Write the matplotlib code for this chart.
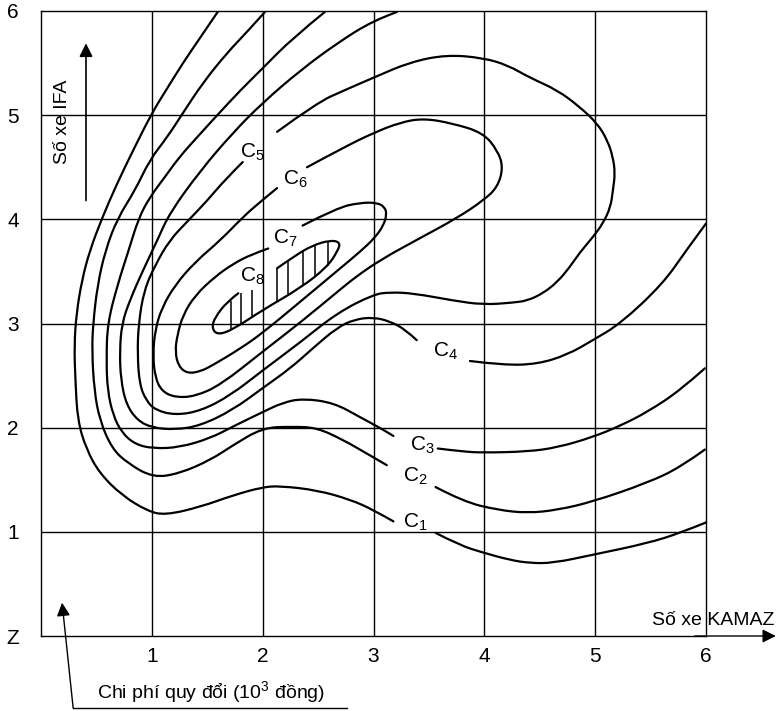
import numpy as np
import matplotlib.pyplot as plt
from matplotlib.path import Path
from matplotlib.patches import PathPatch

plt.rcParams['font.family'] = ['Liberation Sans', 'DejaVu Sans']
plt.rcParams['mathtext.fontset'] = 'custom'
plt.rcParams['mathtext.rm'] = 'Liberation Sans'
plt.rcParams['mathtext.it'] = 'Liberation Sans'

# Duong dong muc chi phi C1..C8 (toa do: so xe KAMAZ, so xe IFA)
c1a_x = [1.60, 1.44, 1.28, 1.14, 1.00, 0.83, 0.68, 0.55, 0.44, 0.37, 0.32, 0.30, 0.31, 0.33,
         0.41, 0.53, 0.73, 0.96, 1.12, 1.44, 1.73, 2.00, 2.16, 2.49, 2.79, 3.00, 3.18]
c1a_y = [6.00, 5.75, 5.50, 5.26, 5.02, 4.66, 4.33, 4.01, 3.70, 3.42, 3.10, 2.79, 2.46, 2.07,
         1.79, 1.56, 1.35, 1.20, 1.16, 1.24, 1.35, 1.43, 1.44, 1.40, 1.31, 1.21, 1.10]
c1b_x = [3.56, 3.78, 3.99, 4.23, 4.41, 4.62, 4.98, 5.47, 5.77, 6.00]
c1b_y = [0.99, 0.87, 0.80, 0.73, 0.70, 0.70, 0.78, 0.89, 0.99, 1.09]

c2a_x = [2.02, 1.86, 1.68, 1.46, 1.28, 1.14, 0.98, 0.85, 0.69, 0.58, 0.51, 0.47, 0.46, 0.48,
         0.53, 0.64, 0.78, 1.01, 1.25, 1.53, 1.73, 2.00, 2.27, 2.49, 2.73, 2.91, 3.12]
c2a_y = [5.99, 5.80, 5.60, 5.31, 5.02, 4.79, 4.57, 4.28, 4.01, 3.70, 3.37, 3.00, 2.74, 2.36,
         2.07, 1.80, 1.66, 1.52, 1.56, 1.69, 1.83, 2.00, 2.01, 2.00, 1.88, 1.77, 1.64]
c2b_x = [3.56, 3.81, 4.12, 4.39, 4.66, 4.98, 5.47, 5.77, 5.99]
c2b_y = [1.43, 1.29, 1.21, 1.18, 1.21, 1.29, 1.47, 1.62, 1.79]

c3a_x = [2.56, 2.27, 2.00, 1.80, 1.59, 1.41, 1.25, 1.12, 0.98, 0.88, 0.79, 0.69, 0.60, 0.59,
         0.60, 0.65, 0.73, 0.85, 1.01, 1.25, 1.53, 1.73, 2.00, 2.18, 2.36, 2.64, 2.88, 3.09, 3.18]
c3a_y = [5.99, 5.74, 5.45, 5.24, 5.00, 4.79, 4.60, 4.41, 4.21, 4.01, 3.70, 3.37, 3.00, 2.65,
         2.36, 2.12, 1.95, 1.84, 1.80, 1.81, 1.90, 2.01, 2.15, 2.24, 2.28, 2.24, 2.10, 1.98, 1.92]
c3b_x = [3.58, 3.81, 3.99, 4.39, 4.66, 4.98, 5.23, 5.47, 5.77, 5.99]
c3b_y = [1.80, 1.77, 1.76, 1.77, 1.81, 1.91, 2.02, 2.15, 2.36, 2.57]

c4a_x = [3.21, 3.00, 2.67, 2.34, 2.00, 1.73, 1.44, 1.16, 1.05, 0.92, 0.80, 0.73, 0.71, 0.72,
         0.77, 0.87, 1.00, 1.21, 1.44, 1.73, 2.00, 2.25, 2.45, 2.67, 2.83, 3.00, 3.15, 3.29, 3.39]
c4a_y = [5.99, 5.91, 5.69, 5.43, 5.12, 4.83, 4.47, 4.06, 3.80, 3.51, 3.22, 3.00, 2.74, 2.46,
         2.22, 2.07, 2.00, 1.98, 2.02, 2.17, 2.38, 2.57, 2.76, 2.96, 3.04, 3.06, 3.02, 2.94, 2.84]
c4b_x = [3.87, 4.17, 4.48, 4.75, 4.98, 5.23, 5.61, 5.82, 6.00]
c4b_y = [2.64, 2.60, 2.61, 2.70, 2.84, 3.00, 3.38, 3.70, 3.96]

c5_x = [2.13, 2.49, 2.74, 3.00, 3.33, 3.66, 3.99, 4.21, 4.41, 4.66, 4.86, 5.02, 5.11, 5.16,
        5.18, 5.16, 5.14, 5.07, 4.98, 4.86, 4.77, 4.66, 4.53, 4.39, 4.26, 3.99, 3.72, 3.36,
        3.15, 3.00, 2.67, 2.34, 2.00, 1.71, 1.44, 1.21, 1.03, 0.95, 0.89, 0.87, 0.88, 0.93,
        1.03, 1.16, 1.33, 1.50, 1.66, 1.82]
c5_y = [4.84, 5.12, 5.24, 5.36, 5.51, 5.58, 5.55, 5.48, 5.36, 5.24, 5.08, 4.92, 4.76, 4.60,
        4.44, 4.28, 4.12, 3.96, 3.83, 3.68, 3.54, 3.40, 3.29, 3.22, 3.20, 3.18, 3.22, 3.29,
        3.30, 3.28, 3.10, 2.82, 2.55, 2.31, 2.16, 2.12, 2.17, 2.26, 2.41, 2.70, 3.00, 3.32,
        3.56, 3.80, 3.99, 4.18, 4.38, 4.55]

c6_x = [2.40, 2.73, 3.00, 3.24, 3.45, 3.72, 3.99, 4.12, 4.17, 4.12, 3.99, 3.75, 3.42, 3.06,
        2.83, 2.67, 2.34, 2.00, 1.62, 1.39, 1.21, 1.09, 1.03, 1.01, 1.03, 1.09, 1.21, 1.39,
        1.62, 1.82, 1.98, 2.13]
c6_y = [4.50, 4.69, 4.83, 4.93, 4.97, 4.92, 4.83, 4.66, 4.50, 4.31, 4.18, 4.01, 3.82, 3.61,
        3.44, 3.30, 3.01, 2.73, 2.41, 2.30, 2.29, 2.35, 2.48, 2.70, 2.94, 3.15, 3.37, 3.59,
        3.80, 4.02, 4.17, 4.30]

c7_x = [2.36, 2.67, 2.88, 3.03, 3.10, 3.12, 3.09, 3.01, 2.88, 2.70, 2.34, 2.00, 1.80, 1.55,
        1.44, 1.32, 1.24, 1.21, 1.23, 1.28, 1.39, 1.57, 1.73, 1.89, 2.05]
c7_y = [3.94, 4.11, 4.16, 4.16, 4.12, 4.05, 3.94, 3.82, 3.69, 3.53, 3.21, 2.91, 2.76, 2.60,
        2.54, 2.52, 2.59, 2.73, 2.89, 3.08, 3.27, 3.45, 3.57, 3.66, 3.72]

c8_x = [2.13, 2.29, 2.45, 2.61, 2.70, 2.68, 2.58, 2.34, 2.00, 1.73, 1.59, 1.54, 1.57, 1.68, 1.78]
c8_y = [3.53, 3.65, 3.75, 3.80, 3.78, 3.70, 3.54, 3.34, 3.13, 2.94, 2.89, 2.96, 3.06, 3.21, 3.29]

# gach soc trong vung C8
hatch_x = [1.71, 1.80, 1.90, 2.13, 2.23, 2.36, 2.47, 2.59]
hatch_top = [3.22, 3.29, 3.32, 3.53, 3.60, 3.69, 3.75, 3.78]
hatch_bot = [2.95, 3.00, 3.07, 3.22, 3.28, 3.36, 3.45, 3.55]

# nhan C1..C8
label_num = ['1', '2', '3', '4', '5', '6', '7', '8']
label_x = [3.27, 3.27, 3.33, 3.54, 1.80, 2.18, 2.09, 1.80]
label_y = [1.09, 1.53, 1.83, 2.73, 4.64, 4.38, 3.82, 3.45]

ticks = [1, 2, 3, 4, 5, 6]


def smooth_path(xs, ys):
    # duong cong bac 2 qua trung diem cac doan
    p = np.column_stack([xs, ys])
    verts = [p[0]]
    codes = [Path.MOVETO]
    for i in range(1, len(p) - 2):
        verts += [p[i], (p[i] + p[i + 1]) / 2]
        codes += [Path.CURVE3, Path.CURVE3]
    verts += [p[-2], p[-1]]
    codes += [Path.CURVE3, Path.CURVE3]
    return Path(verts, codes)


fig = plt.figure(figsize=(7.76, 7.11), dpi=100)
ax = fig.add_axes([41 / 776, 75 / 711, 665 / 776, 625 / 711])
ax.set_xlim(0, 6)
ax.set_ylim(0, 6)

for t in ticks[:-1]:
    ax.axvline(t, color='black', lw=1.0)
    ax.axhline(t, color='black', lw=1.0)
for s in ax.spines.values():
    s.set_linewidth(1.0)

curves = [(c1a_x, c1a_y), (c1b_x, c1b_y), (c2a_x, c2a_y), (c2b_x, c2b_y),
          (c3a_x, c3a_y), (c3b_x, c3b_y), (c4a_x, c4a_y), (c4b_x, c4b_y),
          (c5_x, c5_y), (c6_x, c6_y), (c7_x, c7_y), (c8_x, c8_y)]
for cx, cy in curves:
    ax.add_patch(PathPatch(smooth_path(cx, cy), fill=False, edgecolor='black', lw=1.6,
                           joinstyle='round', capstyle='round'))

ax.vlines(hatch_x, hatch_bot, hatch_top, color='black', lw=1.1)

for n, lx, ly in zip(label_num, label_x, label_y):
    ax.text(lx, ly, 'C$_{' + n + '}$', fontsize=15, ha='left', va='center')

# truc
ax.set_xticks(ticks)
ax.set_xticklabels([str(t) for t in ticks], fontsize=15)
ax.set_yticks([0] + ticks)
ax.set_yticklabels(['Z'] + [str(t) for t in ticks], fontsize=15)
ax.tick_params(length=0)
ax.tick_params(axis='x', pad=8)
ax.tick_params(axis='y', pad=16)

ax.annotate('', xy=(6.63, 0), xytext=(5.9, 0), annotation_clip=False,
            arrowprops=dict(arrowstyle='-|>', color='black', lw=1.0,
                            mutation_scale=20, shrinkA=0, shrinkB=0))
ax.text(6.62, 0.15, 'Số xe KAMAZ', fontsize=14, ha='right', va='center')

ax.annotate('', xy=(0.406, 5.69), xytext=(0.406, 4.18),
            arrowprops=dict(arrowstyle='-|>', color='black', lw=1.2,
                            mutation_scale=20, shrinkA=0, shrinkB=0))
ax.text(0.19, 4.94, 'Số xe IFA', fontsize=14, rotation=90, ha='center', va='center')

# chu thich chi phi
ax.plot([0.29, 2.76], [-0.69, -0.69], color='black', lw=1.0, clip_on=False)
ax.annotate('', xy=(0.19, 0.32), xytext=(0.29, -0.69), annotation_clip=False,
            arrowprops=dict(arrowstyle='-|>', color='black', lw=1.0,
                            mutation_scale=20, shrinkA=0, shrinkB=0))
ax.text(1.53, -0.54, 'Chi phí quy đổi (10$^3$ đồng)', fontsize=14, ha='center', va='center')

fig.savefig('out.png', dpi=100)
